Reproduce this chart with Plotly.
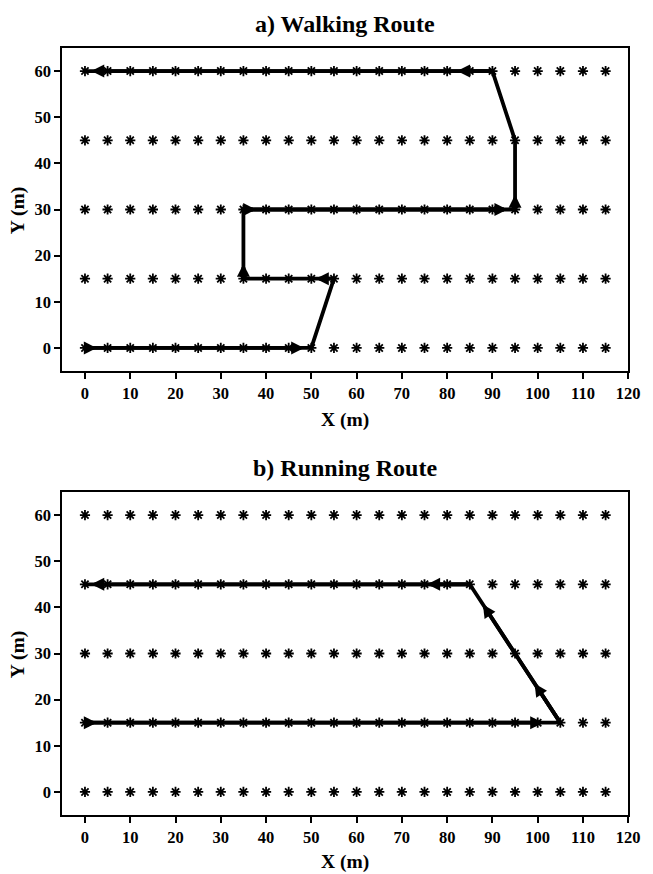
import plotly.graph_objects as go
import numpy as np

# Grid of measurement points
GRID_X = list(range(0, 120, 5))
GRID_Y = [0, 15, 30, 45, 60]

# Walking route vertices
WALK_X = [0, 50, 55, 35, 35, 95, 95, 90, 0]
WALK_Y = [0, 0, 15, 15, 30, 30, 45, 60, 60]
# Walking arrows: segment start (tail) and arrow tip
WALK_ARROW_FROM_X = [0, 0, 55, 35, 35, 35, 95, 90, 90]
WALK_ARROW_FROM_Y = [0, 0, 15, 15, 30, 30, 30, 60, 60]
WALK_ARROW_TIP_X = [2.6, 48.4, 51.0, 35, 37.8, 93.3, 95, 82.2, 1.4]
WALK_ARROW_TIP_Y = [0, 0, 15, 18.2, 30, 30, 33.2, 60, 60]

# Running route vertices
RUN_X = [0, 105, 85, 0]
RUN_Y = [15, 15, 45, 45]
RUN_ARROW_FROM_X = [0, 0, 105, 105, 85, 85]
RUN_ARROW_FROM_Y = [15, 15, 15, 15, 45, 45]
RUN_ARROW_TIP_X = [2.6, 101.2, 99.3, 87.9, 75.6, 1.4]
RUN_ARROW_TIP_Y = [15, 15, 23.5, 40.6, 45, 45]

X_TICKS = list(range(0, 121, 10))
Y_TICKS = list(range(0, 61, 10))

FONT = "Liberation Serif"
W, H = 653, 874

fig = go.Figure()

gx, gy = np.meshgrid(GRID_X, GRID_Y)


def add_panel(xref, yref, rx, ry, afx, afy, atx, aty):
    fig.add_trace(go.Scatter(
        x=gx.ravel(), y=gy.ravel(), mode="markers", xaxis=xref, yaxis=yref,
        marker=dict(symbol="asterisk-open", size=8.5, color="black",
                    line=dict(color="black", width=1.8)),
        showlegend=False, hoverinfo="skip"))
    fig.add_trace(go.Scatter(
        x=rx, y=ry, mode="lines", xaxis=xref, yaxis=yref,
        line=dict(color="black", width=3.8), showlegend=False, hoverinfo="skip"))
    for fx, fy, tx, ty in zip(afx, afy, atx, aty):
        fig.add_annotation(
            x=tx, y=ty, ax=fx, ay=fy, xref=xref, yref=yref, axref=xref, ayref=yref,
            text="", showarrow=True, arrowhead=2, arrowsize=0.68, arrowwidth=3.8,
            arrowcolor="black", standoff=0, startstandoff=0)


add_panel("x", "y", WALK_X, WALK_Y, WALK_ARROW_FROM_X, WALK_ARROW_FROM_Y,
          WALK_ARROW_TIP_X, WALK_ARROW_TIP_Y)
add_panel("x2", "y2", RUN_X, RUN_Y, RUN_ARROW_FROM_X, RUN_ARROW_FROM_Y,
          RUN_ARROW_TIP_X, RUN_ARROW_TIP_Y)

x_dom = [63.5 / W, 640 / W]
ya_dom = [1 - 371 / H, 1 - 48 / H]
yb_dom = [1 - 815 / H, 1 - 492 / H]

axis_common = dict(showgrid=False, zeroline=False, showline=True, mirror=True,
                   linecolor="black", linewidth=2, ticks="outside", ticklen=6,
                   tickwidth=2, tickcolor="black",
                   tickfont=dict(family=FONT, size=16.5, color="black", weight="bold"))

fig.update_layout(
    width=W, height=H, margin=dict(l=0, r=0, t=0, b=0),
    paper_bgcolor="white", plot_bgcolor="white",
    xaxis=dict(domain=x_dom, range=[-5, 120], tickvals=X_TICKS, anchor="y", **axis_common),
    yaxis=dict(domain=ya_dom, range=[-5, 65], tickvals=Y_TICKS, anchor="x", **axis_common),
    xaxis2=dict(domain=x_dom, range=[-5, 120], tickvals=X_TICKS, anchor="y2", **axis_common),
    yaxis2=dict(domain=yb_dom, range=[-5, 65], tickvals=Y_TICKS, anchor="x2", **axis_common),
)

cx = (x_dom[0] + x_dom[1]) / 2


def ann(text, x, y_px, size, angle=0):
    fig.add_annotation(text=text, x=x, y=1 - y_px / H, xref="paper", yref="paper",
                       showarrow=False, textangle=angle, xanchor="center", yanchor="middle",
                       font=dict(family=FONT, size=size, color="black", weight="bold"))


ann("a) Walking Route", cx, 24, 24)
ann("b) Running Route", cx, 468, 24)
ann("X (m)", cx, 420, 19.5)
ann("X (m)", cx, 862, 19.5)
ann("Y (m)", 18.5 / W, 211, 19.5, -90)
ann("Y (m)", 18.5 / W, 655, 19.5, -90)

fig.write_html("out.html", config={"responsive": False})
